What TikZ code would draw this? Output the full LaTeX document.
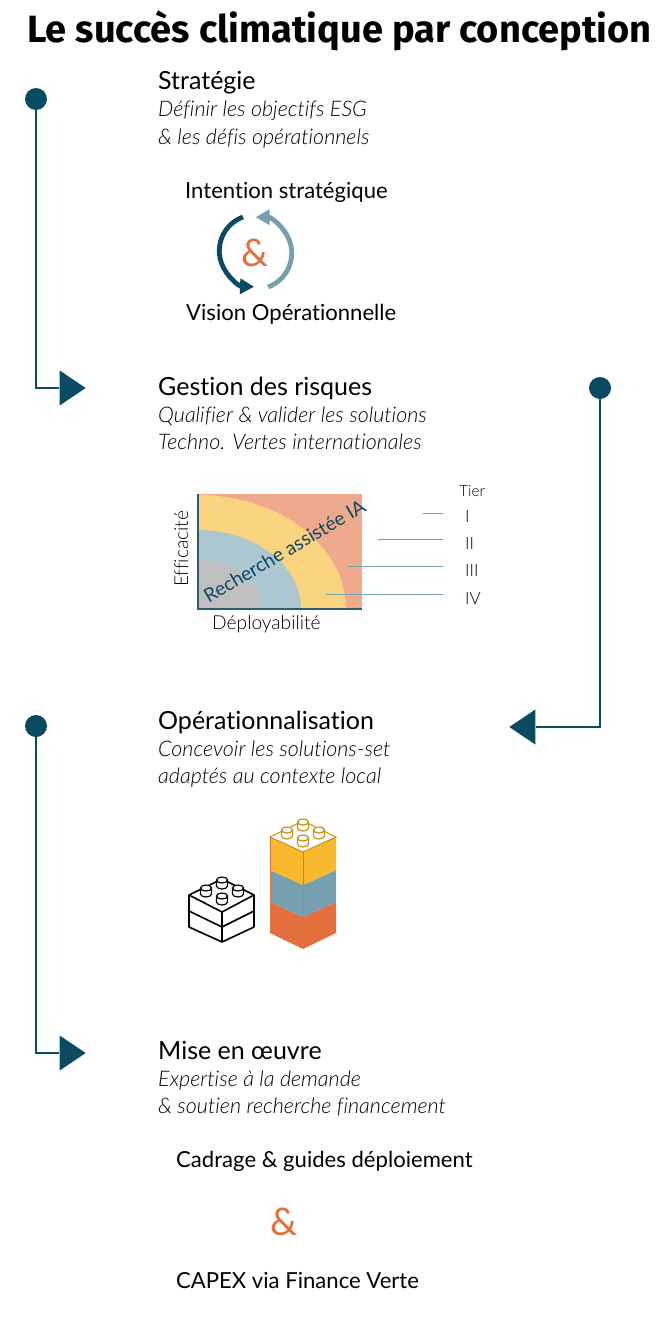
\documentclass[tikz,border=0pt]{standalone}
\usepackage{fontspec}
\setmainfont{Lato}[RawFeature={-liga}]
\newfontfamily\titlefont{Fira Sans}
\newfontfamily\lightfont{Lato Light}[RawFeature={-liga}]
\usetikzlibrary{arrows.meta,%
		calc,%
		shapes.geometric}

\definecolor{petrol}{HTML}{0B4A63}
\definecolor{steel}{HTML}{76A0B0}
\definecolor{rust}{HTML}{E36F3C}
\definecolor{amber}{HTML}{F9B92F}
\definecolor{salmon}{HTML}{EFA98C}
\definecolor{straw}{HTML}{FBD480}
\definecolor{mist}{HTML}{ADC7D1}
\definecolor{stone}{HTML}{BFBFBF}
\definecolor{ochre}{HTML}{C8900E}

\tikzset{
  txt/.style={anchor=base west,inner sep=0pt,text=black},
  heading/.style={txt,font=\fontsize{25}{25}\selectfont},
  subhead/.style={txt,font=\lightfont\itshape\fontsize{21.5}{21}\selectfont},
  caption/.style={txt,font=\fontsize{22.1}{22}\selectfont},
  axislabel/.style={txt,font=\lightfont\fontsize{19.2}{19}\selectfont},
  tierlabel/.style={txt,font=\lightfont\fontsize{17}{17}\selectfont},
  amp/.style={anchor=base,inner sep=0pt,text=rust},
  startdot/.style={circle,fill=petrol,minimum size=22pt,inner sep=0pt},
  headtip/.style={isosceles triangle,isosceles triangle apex angle=68,
    isosceles triangle stretches,fill=petrol,inner sep=0pt,minimum height=26pt,minimum width=35pt},
  flow/.style={draw=petrol,line width=2.2pt},
  cyclearrow/.style={line width=4.8pt,-{Triangle[length=14pt,width=15pt]}},
  tierline/.style={draw=steel,line width=0.7pt},
  brick/.style={line width=1.6pt,line join=round}
}

\newcommand{\legostud}[3]{%
  \filldraw[#3,fill=white,line width=1.2pt] (#1-5.5,#2) -- (#1-5.5,#2+6) arc[start angle=180,end angle=0,x radius=5.5,y radius=3]
    -- (#1+5.5,#2) arc[start angle=0,end angle=-180,x radius=5.5,y radius=3] -- cycle;
  \draw[#3,line width=1.2pt] (#1+5.5,#2) arc[start angle=0,end angle=180,x radius=5.5,y radius=3];
}

\begin{document}
\begin{tikzpicture}[x=1pt,y=-1pt]
  \useasboundingbox (0,0) rectangle (666,1319);

  \node [anchor=base west,inner sep=0pt,font=\titlefont\bfseries\fontsize{38}{38}\selectfont] (title) at (27,43) {Le succès climatique par conception};

  % section texts
  \node [heading] (strategie) at (158,90) {Stratégie};
  \node [subhead] (strategiea) at (158,117) {Définir les objectifs ESG};
  \node [subhead] (strategieb) at (158,144) {\& les défis opérationnels};

  \node [heading] (risques) at (158,395) {Gestion des risques};
  \node [subhead] (risquesa) at (158,422) {Qualifier \& valider les solutions};
  \node [subhead] (risquesb) at (158,449) {Techno. Vertes internationales};

  \node [heading] (oper) at (158,729) {Opérationnalisation};
  \node [subhead] (opera) at (158,756) {Concevoir les solutions-set};
  \node [subhead] (operb) at (158,783) {adaptés au contexte local};

  \node [heading] (mise) at (158,1059) {Mise en œuvre};
  \node [subhead] (misea) at (158,1086) {Expertise à la demande};
  \node [subhead] (miseb) at (158,1113) {\& soutien recherche financement};

  % timeline
  \node [startdot] (dota) at (36,99) {};
  \node [headtip] (tipa) at (69,388) {};
  \draw [flow] (dota) |- (tipa);

  \node [startdot] (dotb) at (600,388) {};
  \node [headtip,shape border rotate=180] (tipb) at (526,727) {};
  \draw [flow] (dotb) |- (tipb);

  \node [startdot] (dotc) at (36,726) {};
  \node [headtip] (tipc) at (69,1053) {};
  \draw [flow] (dotc) |- (tipc);

  % strategy cycle
  \node [caption] (intention) at (185,198) {Intention stratégique};
  \node [caption] (vision) at (186,320) {Vision Opérationnelle};
  \node [amp,font=\fontsize{38}{38}\selectfont] (ampa) at (255,266) {\&};
  \draw [cyclearrow,draw=petrol] (243,217) arc[start angle=250,end angle=92,radius=36];
  \draw [cyclearrow,draw=steel] (268,287) arc[start angle=70,end angle=-90,radius=36];

  % risk chart
  \fill [salmon] (198,494) rectangle (362,609);
  \fill [straw] (198,609) -- (198,495) arc[start angle=-90,end angle=0,x radius=148,y radius=114] -- cycle;
  \fill [mist] (198,609) -- (198,530) arc[start angle=-90,end angle=0,x radius=103,y radius=79] -- cycle;
  \fill [stone] (198,609) -- (198,560) arc[start angle=-90,end angle=0,x radius=63,y radius=49] -- cycle;
  \draw [draw=petrol!70!gray,line width=1.2pt] (198,494) -- (198,609) -- (362,609);
  \node [anchor=base,inner sep=0pt,text=petrol,rotate=30.5,font=\fontsize{19.3}{19}\selectfont] (recherche) at (288,557) {Recherche assistée IA};
  \node [axislabel,rotate=90] (efficacite) at (188,587) {Efficacité};
  \node [axislabel] (deploy) at (212,629) {Déployabilité};

  \node [tierlabel,font=\lightfont\fontsize{15.5}{16}\selectfont] (tier) at (459,496) {Tier};
  \node [tierlabel] (tieri) at (465,522) {I};
  \node [tierlabel] (tierii) at (465,549) {II};
  \node [tierlabel] (tieriii) at (465,576) {III};
  \node [tierlabel] (tieriv) at (465,604) {IV};
  \coordinate (linei) at (423,513);
  \coordinate (lineii) at (378,539);
  \coordinate (lineiii) at (348,566);
  \coordinate (lineiv) at (326,594);
  \draw [tierline] (linei) -- (linei -| 443,0);
  \draw [tierline] (lineii) -- (lineii -| 443,0);
  \draw [tierline] (lineiii) -- (lineiii -| 443,0);
  \draw [tierline] (lineiv) -- (lineiv -| 443,0);

  % white brick
  \filldraw [brick,fill=white] (189,895) -- (222,879) -- (254,895) -- (254,927) -- (222,942) -- (189,927) -- cycle;
  \draw [brick] (189,895) -- (222,912) -- (254,895);
  \draw [brick] (189,911) -- (222,927) -- (254,911);
  \draw [brick] (222,912) -- (222,942);
  \legostud{206}{888}{black}
  \legostud{222}{880}{black}
  \legostud{238}{888}{black}
  \legostud{222}{896}{black}

  % coloured tower
  \fill [rust] (270,902) -- (303,917) -- (336,902) -- (336,933) -- (303,949) -- (270,933) -- cycle;
  \fill [steel] (270,870) -- (303,885) -- (336,870) -- (336,902) -- (303,917) -- (270,902) -- cycle;
  \fill [amber] (270,837) -- (303,852) -- (336,837) -- (336,870) -- (303,885) -- (270,870) -- cycle;
  \fill [white] (270,837) -- (303,821) -- (336,837) -- (303,852) -- cycle;
  \draw [rust!90!amber,line width=1pt] (270,837) -- (270,933) (303,852) -- (303,917);
  \draw [ochre,line width=1pt] (270,837) -- (303,821) -- (336,837) -- (303,852) -- cycle;
  \legostud{287}{830}{ochre}
  \legostud{303}{822}{ochre}
  \legostud{319}{830}{ochre}
  \legostud{303}{838}{ochre}

  % implementation
  \node [caption] (cadrage) at (176,1167) {Cadrage \& guides déploiement};
  \node [amp,font=\fontsize{38}{38}\selectfont] (ampb) at (284,1235) {\&};
  \node [caption] (capex) at (176,1288) {CAPEX via Finance Verte};

\end{tikzpicture}
\end{document}
